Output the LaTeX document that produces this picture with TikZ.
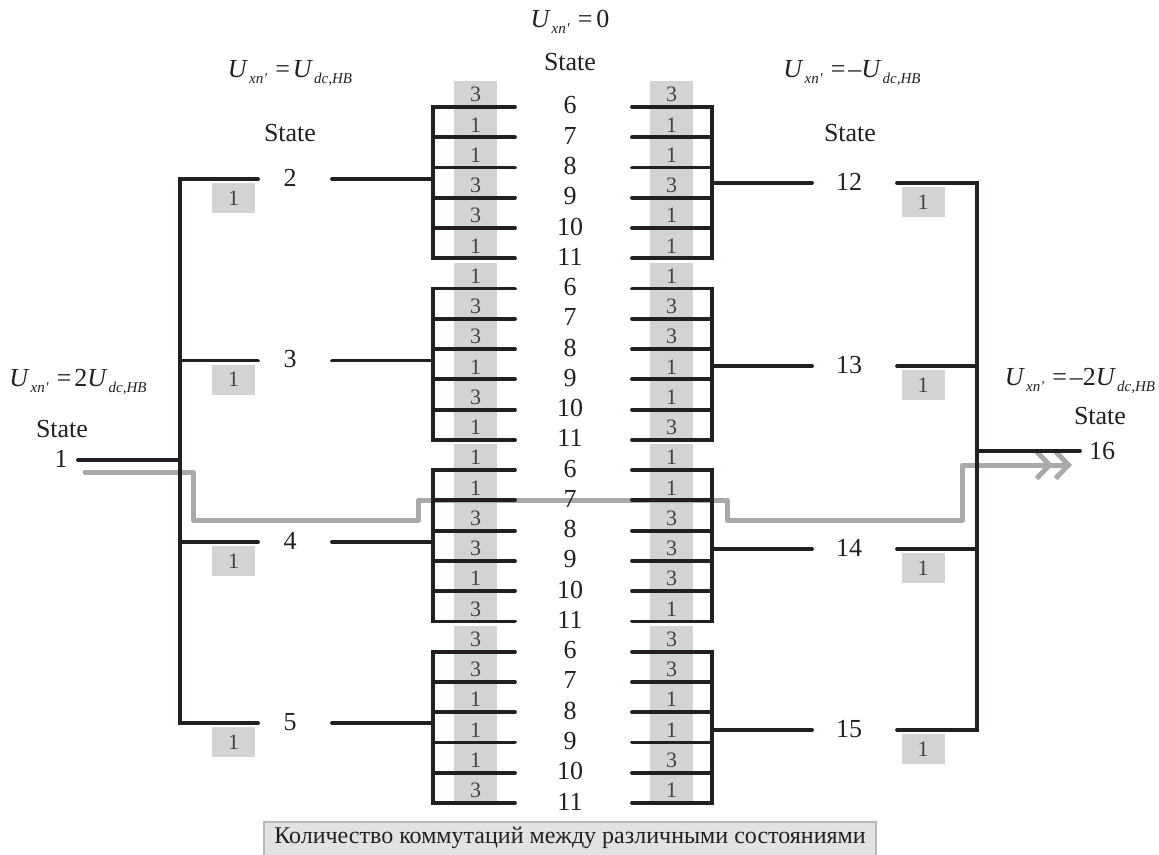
\documentclass[tikz,border=0pt]{standalone}
\usepackage{fontspec}
\setmainfont{Liberation Serif}
\usetikzlibrary{arrows.meta}

\definecolor{cellgray}{HTML}{D3D3D3}
\definecolor{pathgray}{HTML}{A9A9A9}
\definecolor{capfill}{HTML}{E2E2E2}
\definecolor{capedge}{HTML}{B8B8B8}
\definecolor{ink}{HTML}{231F20}

% U with a lowered italic subscript
\newcommand{\Usub}[1]{\textit{U}\kern1pt\raisebox{-6pt}{\fontsize{15}{15}\selectfont\textit{#1}}}
\newcommand{\Uxn}{\Usub{xn\kern0.5pt′}}

\begin{document}
\begin{tikzpicture}[x=1pt,y=-1pt,
  wire/.style={line width=3.8pt, draw=ink, line cap=round, line join=miter},
  hilite/.style={line width=5pt, draw=pathgray, line cap=round, line join=round},
  lbl/.style={font=\fontsize{26}{26}\selectfont, inner sep=0pt, text=ink},
  formula/.style={font=\fontsize{26}{26}\selectfont, inner sep=0pt, anchor=base, text=ink},
  cnt/.style={font=\fontsize{22}{22}\selectfont, inner sep=0pt, text=ink!85},
  cnbox/.style={fill=cellgray, minimum width=43pt, minimum height=30pt, inner sep=0pt,
                font=\fontsize{22}{22}\selectfont, text=ink!85}]
\useasboundingbox (0,0) rectangle (1159,854);

% shaded columns holding the switching counts
\foreach \g in {0,1,2,3}{
  \pgfmathsetmacro\ya{107+181.56*\g-26}
  \pgfmathsetmacro\yb{107+181.56*\g+151.3}
  \fill[cellgray] (454,\ya) rectangle (497,\yb);
  \fill[cellgray] (650,\ya) rectangle (693,\yb);
}
\foreach \a [count=\i from 0] in {3,1,1,3,3,1,1,3,3,1,3,1,1,1,3,3,1,3,3,3,1,1,1,3}
  \node[cnt] (cl\i) at ({475.5},{107+30.26*\i-12.5}) {\a};
\foreach \a [count=\i from 0] in {3,1,1,3,1,1,1,3,3,1,1,3,1,1,3,3,3,1,3,3,1,1,3,1}
  \node[cnt] (cr\i) at ({671.5},{107+30.26*\i-12.5}) {\a};

% highlighted switching path 1 -> 7 -> 16
\coordinate (h0) at (85,472);
\coordinate (h1) at (193,520);
\coordinate (h2) at (418,500.4);
\coordinate (h3) at (727,520);
\coordinate (h4) at (962,465);
\coordinate (h5) at (1073,465);
\draw[hilite, -{Straight Barb[length=13pt,width=27pt] Straight Barb[length=13pt,width=27pt,sep=1pt]}]
  (h0) -| (h1) -| (h2) -| (h3) -| (h4) -- (h5);

% zero-voltage groups (states 6..11, four times)
\foreach \g in {0,1,2,3}{
  \pgfmathsetmacro\ya{107+181.56*\g}
  \pgfmathsetmacro\yb{\ya+151.3}
  \draw[wire] (515,\ya) -- (433,\ya) -- (433,\yb) -- (515,\yb);
  \draw[wire] (632,\ya) -- (712,\ya) -- (712,\yb) -- (632,\yb);
  \foreach \k in {1,2,3,4}{
    \draw[wire] (433,{\ya+30.26*\k}) -- (515,{\ya+30.26*\k});
    \draw[wire] (632,{\ya+30.26*\k}) -- (712,{\ya+30.26*\k});
  }
}
\foreach \n [count=\i from 0] in {6,7,8,9,10,11,6,7,8,9,10,11,6,7,8,9,10,11,6,7,8,9,10,11}
  \node[lbl] (z\i) at ({570},{107+30.26*\i-1.5}) {\n};

% left side: state 1 and states 2..5
\node[lbl] (s1) at (61,459) {1};
\node[lbl] (s1t) at (62,429) {State};
\coordinate (b1) at (78,460);
\coordinate (busL) at (180,460);
\draw[wire] (b1) -- (busL);
\draw[wire] (258,179) -- (180,179) -- (180,723) -- (258,723);
\draw[wire] (180,360.5) -- (258,360.5);
\draw[wire] (180,542) -- (258,542);
\foreach \s/\y in {2/179,3/360.5,4/542,5/723}{
  \node[lbl] (s\s) at (290,\y-1) {\s};
  \node[cnbox] (w\s) at (233.5,\y+19) {1};
  \coordinate (o\s) at (332,\y);
  \coordinate (g\s) at (433,\y);
  \draw[wire] (o\s) -- (g\s);
}

% right side: states 12..15 and state 16
\draw[wire] (897,183) -- (977,183) -- (977,730) -- (897,730);
\draw[wire] (897,366) -- (977,366);
\draw[wire] (897,549) -- (977,549);
\foreach \s/\y in {12/183,13/366,14/549,15/730}{
  \node[lbl] (s\s) at (849,\y-1) {\s};
  \node[cnbox] (w\s) at (923,\y+19) {1};
  \coordinate (q\s) at (712,\y);
  \coordinate (p\s) at (812,\y);
  \draw[wire] (q\s) -- (p\s);
}
\coordinate (busR) at (977,451);
\coordinate (b16) at (1080,451);
\draw[wire] (busR) -- (b16);
\node[lbl] (s16) at (1102,451) {16};
\node[lbl] (s16t) at (1100,416) {State};

% headings
\node[formula] (f0) at (570,27) {\Uxn\hspace{8pt}=\hspace{4pt}0};
\node[lbl] (t0) at (570,62) {State};
\node[formula] (f1) at (290,77) {\Uxn\hspace{8pt}=\hspace{3pt}\Usub{dc,HB}};
\node[lbl] (t1) at (290,133) {State};
\node[formula] (f2) at (852,77) {\Uxn\hspace{8pt}=\hspace{3pt}–\Usub{dc,HB}};
\node[lbl] (t2) at (850,133) {State};
\node[formula] (f3) at (78,386) {\Uxn\hspace{8pt}=\hspace{3pt}2\Usub{dc,HB}};
\node[formula] (f4) at (1080,385) {\Uxn\hspace{8pt}=\hspace{3pt}–2\Usub{dc,HB}};

% caption bar
\draw[fill=capfill, draw=capedge, line width=1.2pt] (264,822) rectangle (876,858);
\node[font=\fontsize{24}{24}\selectfont, inner sep=0pt, text=ink] (cap) at (570,838)
  {Количество коммутаций между различными состояниями};
\end{tikzpicture}
\end{document}
